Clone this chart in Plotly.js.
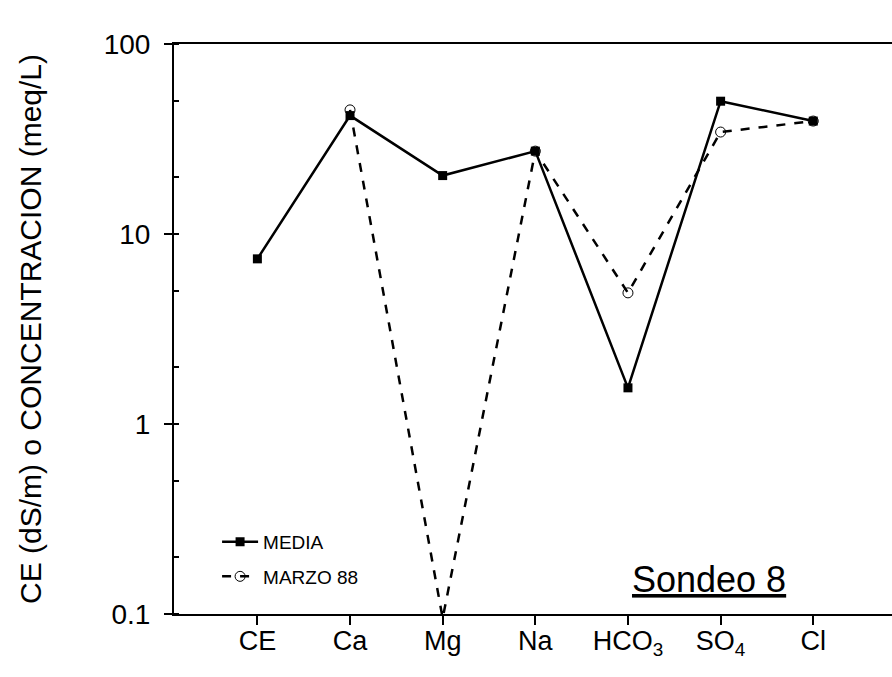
<!DOCTYPE html>
<html>
<head>
<meta charset="utf-8">
<script src="https://cdn.plot.ly/plotly-3.0.1.min.js"></script>
<style>html,body{margin:0;padding:0;background:#fff}</style>
</head>
<body>
<div id="chart" style="width:892px;height:677px"></div>
<script>
var categories = ["CE", "Ca", "Mg", "Na", "HCO<sub>3</sub>", "SO<sub>4</sub>", "Cl"];
var media = [7.4, 42, 20.3, 27.3, 1.55, 50, 39.3];
var marzo88 = [null, 45, 0.095, 27.3, 4.9, 34.4, 39.3];
var yTickVals = [0.1, 1, 10, 100];
var yTickText = ["0.1", "1", "10", "100"];

var xIdx = categories.map(function(_, i){ return i; });
var font = "Liberation Sans, Arial, Helvetica, sans-serif";

var traces = [
  {
    x: xIdx, y: media, name: "MEDIA", legendgroup: "a",
    mode: "lines+markers", type: "scatter", cliponaxis: false,
    line: {color: "#000", width: 2.5},
    marker: {symbol: "square", size: 9, color: "#000"}
  },
  {
    x: xIdx, y: marzo88, name: "MARZO 88", legendgroup: "b",
    mode: "lines+markers", type: "scatter", cliponaxis: true,
    line: {color: "#000", width: 2.5, dash: "dash"},
    marker: {symbol: "circle-open", size: 10, color: "#000", line: {width: 1, color: "#000"}}
  }
];

var layout = {
  width: 892, height: 677,
  margin: {l: 174, r: 0, t: 44, b: 63},
  paper_bgcolor: "#fff", plot_bgcolor: "#fff",
  font: {family: font, color: "#000"},
  showlegend: true,
  legend: {
    x: 0.06, y: 0.16, xanchor: "left", yanchor: "top",
    bgcolor: "rgba(0,0,0,0)", font: {size: 19, family: font, color: "#000"},
    traceorder: "grouped", tracegroupgap: 7, itemwidth: 36
  },
  xaxis: {
    range: [-0.9, 6.85],
    tickmode: "array", tickvals: xIdx, ticktext: categories,
    ticks: "outside", ticklen: 9, tickwidth: 2, tickcolor: "#000",
    ticklabelstandoff: -7,
    showline: true, linecolor: "#000", linewidth: 2, mirror: true,
    showgrid: false, zeroline: false,
    tickfont: {size: 27, family: font, color: "#000"}
  },
  yaxis: {
    type: "log", range: [-1, 2],
    tickmode: "array", tickvals: yTickVals, ticktext: yTickText,
    ticks: "outside", ticklen: 8, tickwidth: 2, tickcolor: "#000",
    ticklabelstandoff: 8,
    minor: {ticks: "inside", ticklen: 5, tickwidth: 1.5, tickcolor: "#000", showgrid: false, dtick: "D2"},
    showline: true, linecolor: "#000", linewidth: 2,
    showgrid: false, zeroline: false,
    tickfont: {size: 28, family: font, color: "#000"},
    title: {text: "CE (dS/m) o CONCENTRACION (meq/L)", font: {size: 30, family: font, color: "#000"}, standoff: 53}
  },
  annotations: [
    {
      xref: "x", yref: "paper", x: 4.88, y: 0.06, xanchor: "center", yanchor: "middle",
      text: "<u>Sondeo 8</u>", showarrow: false,
      font: {size: 36, family: font, color: "#000"}
    }
  ]
};

Plotly.newPlot("chart", traces, layout, {displayModeBar: false, staticPlot: true});
</script>
</body>
</html>
